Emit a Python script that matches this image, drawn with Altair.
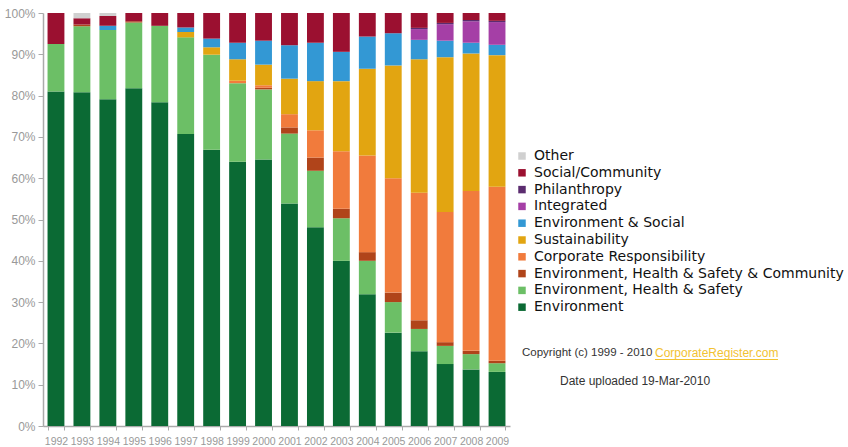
import altair as alt
import pandas as pd

# Report types, listed top (last stacked) to bottom (first stacked)
categories = [
    "Other",
    "Social/Community",
    "Philanthropy",
    "Integrated",
    "Environment & Social",
    "Sustainability",
    "Corporate Responsibility",
    "Environment, Health & Safety & Community",
    "Environment, Health & Safety",
    "Environment",
]
colors = [
    "#d0d0d0", "#9b1030", "#5b2c6f", "#a53fa6", "#3398d4",
    "#e2a511", "#f17b3c", "#b0441a", "#6cbf66", "#0b6a34",
]

years = [str(y) for y in range(1992, 2010)]

# Share of reports (%) per year, 1992 .. 2009
environment = [81.0, 80.8, 79.1, 81.8, 78.4, 70.7, 66.9, 64.0, 64.5,
               53.9, 48.1, 40.0, 31.9, 22.6, 18.1, 15.0, 13.7, 13.1]
ehs = [11.5, 16.0, 16.8, 15.9, 18.5, 23.4, 23.0, 19.0, 17.0,
       16.9, 13.7, 10.3, 8.1, 7.4, 5.4, 4.4, 3.7, 2.1]
ehs_community = [0.0, 0.4, 0.0, 0.3, 0.0, 0.0, 0.0, 0.0, 0.4,
                 1.5, 3.2, 2.3, 2.1, 2.3, 2.1, 0.9, 0.8, 0.6]
corporate_resp = [0.0, 0.0, 0.0, 0.0, 0.0, 0.0, 0.0, 0.6, 0.6,
                  3.2, 6.6, 13.9, 23.4, 27.7, 30.9, 31.5, 38.7, 42.1]
sustainability = [0.0, 0.0, 0.0, 0.0, 0.0, 1.3, 1.8, 5.2, 5.0,
                  8.6, 11.9, 17.0, 21.0, 27.3, 32.3, 37.5, 33.3, 31.9]
env_social = [0.0, 0.0, 1.0, 0.0, 0.0, 1.1, 2.1, 4.0, 5.8,
              8.1, 9.3, 7.1, 7.8, 7.8, 4.7, 4.0, 2.6, 2.5]
integrated = [0.0, 0.0, 0.0, 0.0, 0.0, 0.0, 0.0, 0.0, 0.0,
              0.0, 0.0, 0.0, 0.0, 0.0, 2.6, 4.0, 5.2, 5.5]
philanthropy = [0.0, 0.0, 0.0, 0.0, 0.0, 0.0, 0.0, 0.0, 0.0,
                0.0, 0.0, 0.0, 0.0, 0.0, 0.3, 0.3, 0.3, 0.3]
social = [7.5, 1.5, 2.4, 2.0, 3.1, 3.5, 6.2, 7.2, 6.7,
          7.8, 7.2, 9.4, 5.7, 4.9, 3.6, 2.4, 1.7, 1.9]
other = [0.0, 1.3, 0.7, 0.0, 0.0, 0.0, 0.0, 0.0, 0.0,
         0.0, 0.0, 0.0, 0.0, 0.0, 0.0, 0.0, 0.0, 0.0]

series = {
    "Other": other,
    "Social/Community": social,
    "Philanthropy": philanthropy,
    "Integrated": integrated,
    "Environment & Social": env_social,
    "Sustainability": sustainability,
    "Corporate Responsibility": corporate_resp,
    "Environment, Health & Safety & Community": ehs_community,
    "Environment, Health & Safety": ehs,
    "Environment": environment,
}

rows = []
for rank, cat in enumerate(reversed(categories)):
    for year, val in zip(years, series[cat]):
        rows.append({"year": year, "type": cat, "share": val, "rank": rank})
df = pd.DataFrame(rows)

bars = alt.Chart(df).mark_bar().encode(
    x=alt.X(
        "year:N",
        title=None,
        scale=alt.Scale(paddingInner=0.35, paddingOuter=0.175),
        axis=alt.Axis(labelAngle=0, tickBand="extent", labelFontSize=10.5,
                      labelPadding=6, tickSize=4),
    ),
    y=alt.Y(
        "share:Q",
        stack="zero",
        title=None,
        scale=alt.Scale(domain=[0, 100], nice=False),
        axis=alt.Axis(values=list(range(0, 101, 10)),
                      labelExpr="datum.value + '%'", labelFontSize=12,
                      tickSize=5, labelPadding=3, grid=False),
    ),
    color=alt.Color(
        "type:N",
        scale=alt.Scale(domain=categories, range=colors),
        legend=alt.Legend(
            title=None, orient="none", legendX=472, legendY=136,
            symbolType="square", symbolSize=56, symbolStrokeWidth=0,
            labelFont="DejaVu Sans", labelFontSize=14, labelColor="#111",
            labelLimit=400, rowPadding=2.8, labelOffset=5, padding=0,
        ),
    ),
    order=alt.Order("rank:Q", sort="ascending"),
)

text_font = "Liberation Sans"

copyright_txt = alt.Chart().mark_text(
    align="left", baseline="middle", font=text_font, fontSize=11.5,
    color="#333", text="Copyright (c) 1999 - 2010",
).encode(x=alt.value(479), y=alt.value(340))

link_txt = alt.Chart().mark_text(
    align="left", baseline="middle", font=text_font, fontSize=12,
    color="#f2c232", text="CorporateRegister.com",
).encode(x=alt.value(612), y=alt.value(340))

link_line = alt.Chart().mark_rule(color="#f2c232", strokeWidth=1).encode(
    x=alt.value(612), x2=alt.value(735), y=alt.value(346.5)
)

date_txt = alt.Chart().mark_text(
    align="left", baseline="middle", font=text_font, fontSize=12,
    color="#333", text="Date uploaded 19-Mar-2010",
).encode(x=alt.value(517), y=alt.value(368))

chart = (
    alt.layer(bars, copyright_txt, link_txt, link_line, date_txt)
    .properties(
        width=467,
        height=413,
        autosize=alt.AutoSizeParams(type="none"),
        padding={"left": 43, "top": 13, "right": 338, "bottom": 21},
        background="white",
    )
    .configure_view(stroke=None)
    .configure_axis(
        labelFont=text_font, labelColor="#999", domainColor="#aaa",
        tickColor="#aaa", domainWidth=1.5,
    )
)

chart.save("out.html", embed_options={"renderer": "svg", "actions": False})
